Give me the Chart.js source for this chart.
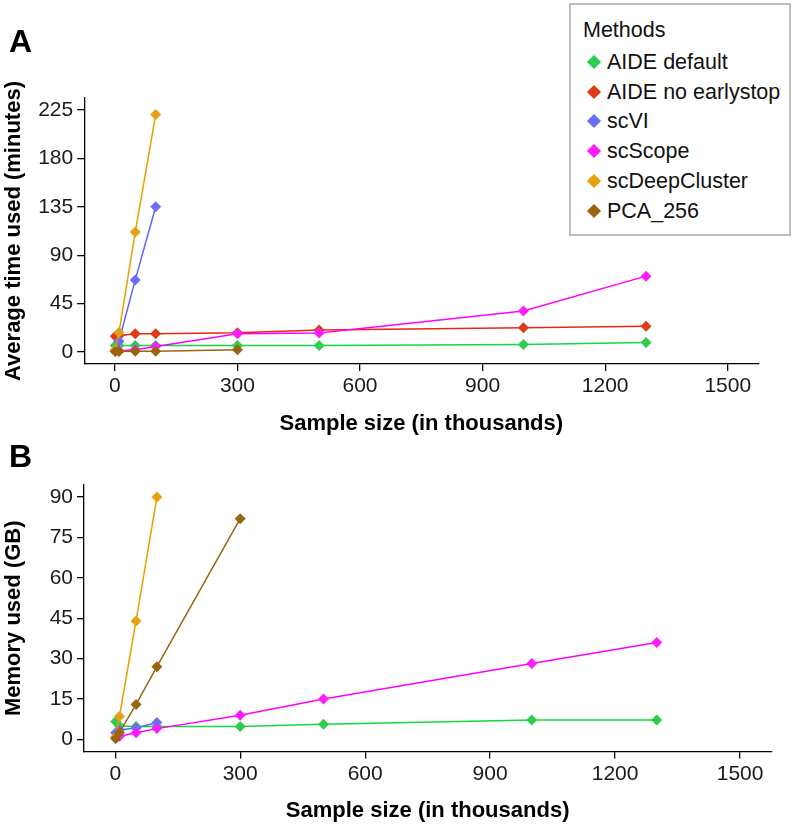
<!DOCTYPE html>
<html>
<head>
<meta charset="utf-8">
<script src="https://cdn.jsdelivr.net/npm/chart.js@4.4.1/dist/chart.umd.min.js"></script>
<style>
  html, body { margin:0; padding:0; background:#fff; }
  body { width:794px; height:828px; position:relative; overflow:hidden; font-family:"Liberation Sans", Arial, sans-serif; }
  canvas { position:absolute; left:0; }
  .panel { position:absolute; font-weight:bold; font-size:32px; color:#000; line-height:1; }
  #legend { position:absolute; left:569px; top:3px; width:218px; height:229px; border:2px solid #b4c0bc; background:#fff; }
  #legend .ttl { position:absolute; left:12px; top:13px; font-size:21.5px; color:#111; }
  #legend .item { position:absolute; left:0; height:24px; width:216px; }
  #legend .dia { position:absolute; left:18px; top:7px; width:10px; height:10px; transform:rotate(45deg); }
  #legend .lab { position:absolute; left:36px; top:0; font-size:21.5px; line-height:24px; color:#111; white-space:nowrap; }
</style>
</head>
<body>
<canvas id="cA" width="794" height="440" style="top:0"></canvas>
<canvas id="cB" width="794" height="398" style="top:430px"></canvas>
<div class="panel" style="left:9px; top:25px;">A</div>
<div class="panel" style="left:9px; top:440px;">B</div>
<div id="legend"></div>
<script>
// ---------- data ----------
const methods = ["AIDE default", "AIDE no earlystop", "scVI", "scScope", "scDeepCluster", "PCA_256"];
const colors  = ["#2ecc4f", "#de3b16", "#6b6ef5", "#ff1bff", "#e6a112", "#9a6510"];
const lineColors = ["#14d83c", "#e8280c", "#5d66f8", "#ff00ff", "#e8a000", "#9a6510"];

const sizesAll   = [1, 10, 50, 100, 300, 500, 1000, 1300];
const sizesShort = [1, 10, 50, 100];
const sizesPCA   = [1, 10, 50, 100, 300];

// Panel A: average time used (minutes)
const timeAideDefault = [6, 6, 6, 6, 6, 6, 7, 8.8];
const timeAideNoStop  = [14.5, 15, 17, 17, 17.8, 20.3, 22.5, 23.8];
const timeScVI        = [1, 10, 67, 135];
const timeScScope     = [0.5, 1, 2, 5, 17, 17.6, 38, 70.5];
const timeScDeep      = [2, 18, 111.5, 221];
const timePCA         = [0.3, 0.3, 0.5, 0.6, 1.9];

// Panel B: memory used (GB)
const memAideDefault = [6.6, 5, 4.8, 4.8, 4.8, 5.6, 7.2, 7.2];
const memScVI        = [2.5, 3.5, 4.2, 6.3];
const memScScope     = [0.5, 1.2, 2.5, 4, 9, 15, 28.2, 36];
const memScDeep      = [1, 8.5, 44, 90];
const memPCA         = [0.3, 2.5, 13, 27, 82];

// tick labels
const sizeTicks = [0, 300, 600, 900, 1200, 1500];
const timeTicks = [0, 45, 90, 135, 180, 225];
const memTicks  = [0, 15, 30, 45, 60, 75, 90];

// ---------- helpers ----------
function pts(xs, ys) { return xs.map((x, i) => ({ x: x, y: ys[i] })); }
function ds(idx, xs, ys) {
  return {
    label: methods[idx],
    data: pts(xs, ys),
    showLine: true,
    borderColor: lineColors[idx],
    backgroundColor: colors[idx],
    borderWidth: 1.5,
    pointStyle: 'rectRot',
    pointRadius: 5.5,
    pointBorderWidth: 0,
    pointBackgroundColor: colors[idx],
    order: 10 - idx
  };
}
const tickFont = { family: "Liberation Sans, Arial, sans-serif", size: 21 };
const titleFont = { family: "Liberation Sans, Arial, sans-serif", size: 22, weight: 'bold' };

function makeChart(id, datasets, cfg) {
  return new Chart(document.getElementById(id), {
    type: 'scatter',
    data: { datasets: datasets },
    options: {
      responsive: false,
      animation: false,
      devicePixelRatio: 1,
      layout: { padding: cfg.padding },
      plugins: { legend: { display: false }, tooltip: { enabled: false } },
      scales: {
        x: {
          type: 'linear', min: -75, max: 1575,
          afterBuildTicks: s => { s.ticks = sizeTicks.map(v => ({ value: v })); },
          afterFit: s => { s.height = cfg.xHeight; },
          ticks: { font: tickFont, color: '#1a1a1a', padding: 3, maxRotation: 0, autoSkip: false, callback: v => String(v) },
          grid: { drawOnChartArea: false, drawTicks: true, tickLength: 7, color: '#000', lineWidth: 1.3 },
          border: { display: true, color: '#000', width: 1.3 },
          title: { display: true, text: 'Sample size (in thousands)', font: titleFont, color: '#000', padding: 0 }
        },
        y: {
          type: 'linear', min: cfg.yMin, max: cfg.yMax,
          afterBuildTicks: s => { s.ticks = cfg.yTicks.map(v => ({ value: v })); },
          afterFit: s => { s.width = cfg.yWidth; },
          ticks: { font: tickFont, color: '#1a1a1a', padding: 4, autoSkip: false, callback: v => String(v) },
          grid: { drawOnChartArea: false, drawTicks: true, tickLength: 7, color: '#000', lineWidth: 1.3 },
          border: { display: true, color: '#000', width: 1.3 },
          title: { display: true, text: cfg.yTitle, font: titleFont, color: '#000', padding: { top: 1, bottom: 0 } }
        }
      }
    }
  });
}

makeChart('cA', [
  ds(0, sizesAll, timeAideDefault),
  ds(1, sizesAll, timeAideNoStop),
  ds(2, sizesShort, timeScVI),
  ds(3, sizesAll, timeScScope),
  ds(4, sizesShort, timeScDeep),
  ds(5, sizesPCA, timePCA)
], {
  padding: { left: 0, right: 35.6, top: 98, bottom: 3 },
  xHeight: 73, yWidth: 84.2,
  yMin: -11.25, yMax: 236.25, yTicks: timeTicks,
  yTitle: 'Average time used (minutes)'
});

makeChart('cB', [
  ds(0, sizesAll, memAideDefault),
  ds(2, sizesShort, memScVI),
  ds(3, sizesAll, memScScope),
  ds(4, sizesShort, memScDeep),
  ds(5, sizesPCA, memPCA)
], {
  padding: { left: 0, right: 22.7, top: 55, bottom: 4 },
  xHeight: 72.5, yWidth: 84,
  yMin: -4.5, yMax: 94.5, yTicks: memTicks,
  yTitle: 'Memory used (GB)'
});

// legend (HTML text)
const lg = document.getElementById('legend');
const t = document.createElement('div'); t.className = 'ttl'; t.textContent = 'Methods'; lg.appendChild(t);
methods.forEach((m, i) => {
  const it = document.createElement('div'); it.className = 'item';
  it.style.top = (45 + i * 29.7) + 'px';
  const d = document.createElement('div'); d.className = 'dia'; d.style.background = colors[i];
  const l = document.createElement('div'); l.className = 'lab'; l.textContent = m;
  it.appendChild(d); it.appendChild(l); lg.appendChild(it);
});
</script>
</body>
</html>
